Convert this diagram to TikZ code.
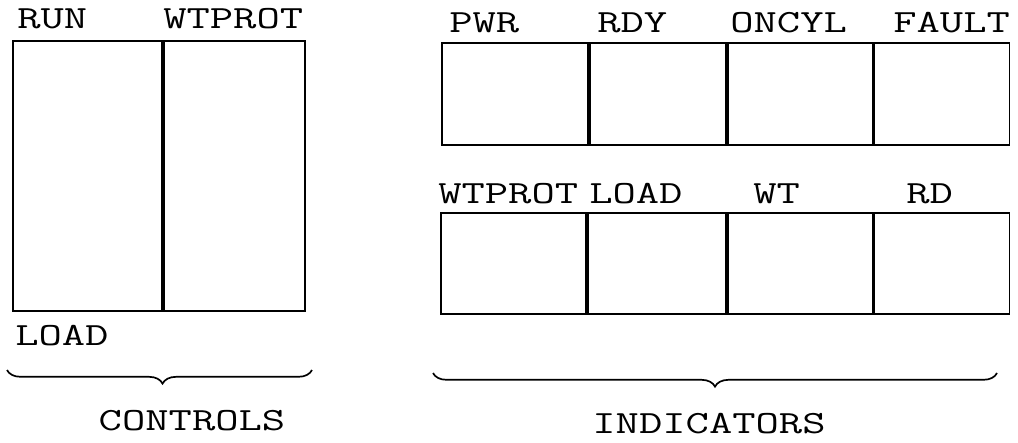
\documentclass[tikz,border=0pt]{standalone}
\usepackage{graphicx}
\usetikzlibrary{positioning,decorations.pathreplacing}

\newcommand\wide[1]{\scalebox{1.4}[1]{#1}}

\begin{document}
\begin{tikzpicture}[x=0.025cm,y=-0.025cm,
 cell/.style={draw,line width=1.3pt,inner sep=0pt,anchor=north west},
 lbl/.style={inner sep=0pt,anchor=base west,font=\fontsize{23}{26}\selectfont\ttfamily},
 brc/.style={decorate,decoration={brace,mirror,amplitude=0.34cm,aspect=#1},line width=1.2pt}]
 \useasboundingbox (0,0) rectangle (1018,442);
 % controls
 \node[cell,minimum width=3.725cm,minimum height=6.75cm] (run) at (12,40) {};
 \node[cell,minimum width=3.525cm,minimum height=6.75cm] (wtp) at (run.north east) {};
 \node[lbl] (lrun) at (17,28) {\wide{RUN}};
 \node[lbl] (lwtp) at (163,28) {\wide{WTPROT}};
 \node[lbl] (lload) at (15,345) {\wide{LOAD}};
 % indicators, upper row
 \node[cell,minimum width=3.65cm,minimum height=2.55cm] (pwr) at (441,42) {};
 \node[cell,minimum width=3.4cm,minimum height=2.55cm] (rdy) at (pwr.north east) {};
 \node[cell,minimum width=3.625cm,minimum height=2.55cm] (oncyl) at (rdy.north east) {};
 \node[cell,minimum width=3.375cm,minimum height=2.55cm] (fault) at (oncyl.north east) {};
 \node[lbl] (lpwr) at (449,32) {\wide{PWR}};
 \node[lbl] (lrdy) at (597,32) {\wide{RDY}};
 \node[lbl] (loncyl) at (730,32) {\wide{ONCYL}};
 \node[lbl] (lfault) at (893,32) {\wide{FAULT}};
 % indicators, lower row
 \node[cell,minimum width=3.625cm,minimum height=2.525cm] (iwtp) at (440,212) {};
 \node[cell,minimum width=3.45cm,minimum height=2.525cm] (iload) at (iwtp.north east) {};
 \node[cell,minimum width=3.625cm,minimum height=2.525cm] (wt) at (iload.north east) {};
 \node[cell,minimum width=3.375cm,minimum height=2.525cm] (rd) at (wt.north east) {};
 \node[lbl] (liwtp) at (438,203) {\wide{WTPROT}};
 \node[lbl] (liload) at (589,203) {\wide{LOAD}};
 \node[lbl] (lwt) at (753,203) {\wide{WT}};
 \node[lbl] (lrd) at (906,203) {\wide{RD}};
 % braces
 \coordinate (c1) at (7,370); \coordinate (c2) at (312,370);
 \coordinate (i1) at (433,373); \coordinate (i2) at (997,373);
 \draw[brc=0.51] (c1) -- (c2);
 \draw[brc=0.5] (i1) -- (i2);
 \node[lbl,anchor=base] (ctl) at (192,430) {\wide{CONTROLS}};
 \node[lbl,anchor=base] (ind) at (709,433) {\wide{INDICATORS}};
\end{tikzpicture}
\end{document}
